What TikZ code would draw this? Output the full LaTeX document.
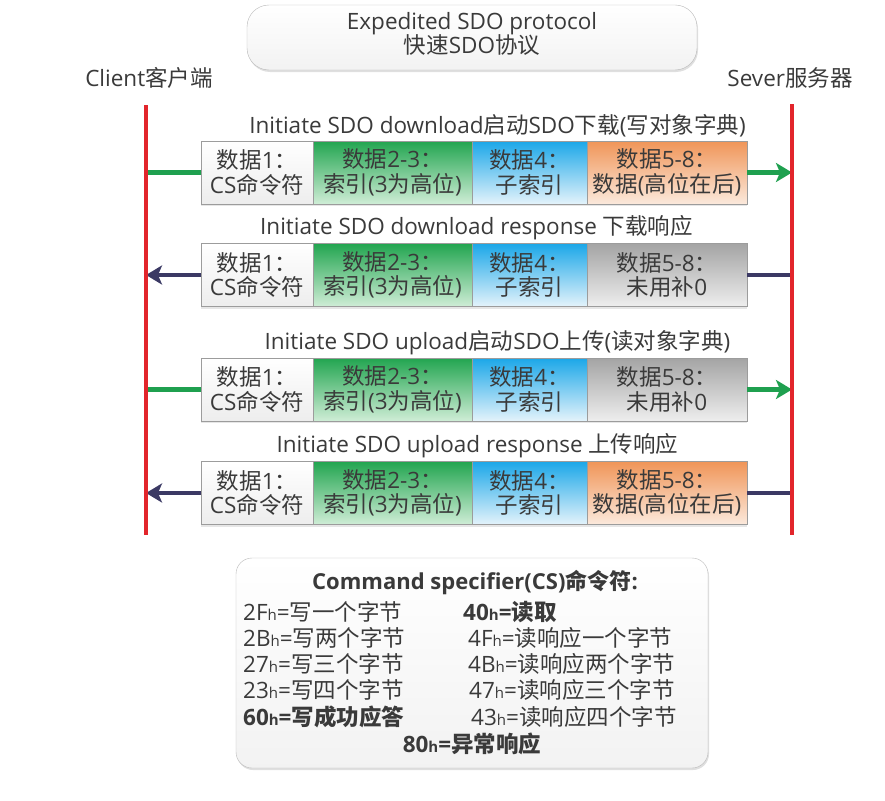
\documentclass[tikz,border=0pt]{standalone}
\usepackage{fontspec}
\setmainfont{Open Sans}
\newfontfamily\cjkfont{Noto Sans CJK SC}
% Chinese characters take the CJK family, everything else stays in Open Sans
\XeTeXinterchartokenstate=1
\newXeTeXintercharclass\cjkclass
\newcount\cjkcode
\def\setcjkrange#1#2{\cjkcode=#1 \loop\XeTeXcharclass\cjkcode=\cjkclass
  \ifnum\cjkcode<#2 \advance\cjkcode by 1 \repeat}
\setcjkrange{"4E00}{"9FFF}
\setcjkrange{"3000}{"303F}
\setcjkrange{"FF00}{"FFEF}
\XeTeXinterchartoks 0 \cjkclass = {\begingroup\cjkfont}
\XeTeXinterchartoks 4095 \cjkclass = {\begingroup\cjkfont}
\XeTeXinterchartoks \cjkclass 0 = {\endgroup}
\XeTeXinterchartoks \cjkclass 4095 = {\endgroup}
\usetikzlibrary{arrows.meta, positioning, shadows}
\definecolor{linered}{HTML}{E2252B}
\definecolor{sendgreen}{HTML}{1FA04F}
\definecolor{replynavy}{HTML}{3B3964}
\definecolor{cellline}{HTML}{9C9C9C}
\definecolor{txt}{HTML}{3A3A3A}
\definecolor{gtop}{HTML}{22A550}
\definecolor{gbot}{HTML}{CFEDD6}
\definecolor{btop}{HTML}{1BA7E8}
\definecolor{bbot}{HTML}{E4F3FB}
\definecolor{otop}{HTML}{F09558}
\definecolor{obot}{HTML}{FBE9DC}
\definecolor{ktop}{HTML}{A4A4A4}
\definecolor{kbot}{HTML}{EEEEEE}
\newcommand{\hx}{{\fontsize{15}{15}\selectfont h}}

\begin{document}
\begin{tikzpicture}[
  x=1pt, y=-1pt,
  txtfont/.style={font=\fontsize{22.5}{24.5}\selectfont, text=txt},
  cell/.style={rectangle, draw=cellline, minimum height=63pt, inner sep=0pt,
               outer sep=0pt, align=center, txtfont,
               drop shadow={shadow xshift=0pt, shadow yshift=-2pt, opacity=.2}},
  cellw/.style={cell, top color=white, bottom color=gray!14},
  cellg/.style={cell, top color=gtop, bottom color=gbot},
  cellb/.style={cell, top color=btop, bottom color=bbot},
  cello/.style={cell, top color=otop, bottom color=obot},
  cellk/.style={cell, top color=ktop, bottom color=kbot},
  rowlabel/.style={txtfont, inner sep=0pt},
  panel/.style={rectangle, draw=gray!55, top color=white, bottom color=gray!10,
                drop shadow={shadow xshift=1pt, shadow yshift=-2pt, opacity=.25}},
  redline/.style={line width=4.5pt, color=linered},
  sendline/.style={line width=4.5pt, color=sendgreen},
  sendarrow/.style={sendline, -{Stealth[length=16pt, width=19pt, inset=4pt]}},
  replyline/.style={line width=4.5pt, color=replynavy},
  replyarrow/.style={replyline, -{Stealth[length=16pt, width=19pt, inset=4pt]}},
  cstext/.style={font=\fontsize{22.5}{24}\selectfont, text=txt, inner sep=0pt, anchor=west}
]
  \useasboundingbox (0,0) rectangle (885,800);

  % title and the two ends
  \node[panel, rounded corners=22pt, minimum width=450pt, minimum height=65pt] (title) at (472,37.5) {};
  \node[txtfont, align=center] (titletext) at (472,34) {Expedited SDO protocol\\快速SDO协议};
  \node[txtfont] (client) at (149,78) {Client客户端};
  \node[txtfont] (server) at (790,78) {Sever服务器};

  \coordinate (clitop) at (146,105);
  \coordinate (clibot) at (146,535);
  \coordinate (srvtop) at (792,104);
  \coordinate (srvbot) at (792,535);

  % frames
  \foreach \r/\y/\lx/\lab/\lastc/\lastt/\lsty/\rsty in {
    1/172.5/497.5/{Initiate SDO download启动SDO下载(写对象字典)}/cello/{数据5-8：\\数据(高位在后)}/sendline/sendarrow,
    2/275/476.5/{Initiate SDO download response 下载响应}/cellk/{数据5-8：\\未用补0}/replyarrow/replyline,
    3/389.5/497.5/{Initiate SDO upload启动SDO上传(读对象字典)}/cellk/{数据5-8：\\未用补0}/sendline/sendarrow,
    4/493/477.5/{Initiate SDO upload response 上传响应}/cello/{数据5-8：\\数据(高位在后)}/replyarrow/replyline}
  {
    \node[cellw, minimum width=112pt, anchor=west] (d1\r) at (201,\y) {数据1：\\CS命令符};
    \node[cellg, minimum width=159pt, right=0pt of d1\r] (d2\r) {数据2-3：\\索引(3为高位)};
    \node[cellb, minimum width=115pt, right=0pt of d2\r] (d3\r) {数据4：\\子索引};
    \node[\lastc, minimum width=160pt, right=0pt of d3\r] (d4\r) {\lastt};
    \node[rowlabel] (lab\r) at (\lx,\y-47) {\lab};
    \draw[\lsty] (d1\r.west) -- (d1\r.west -| clitop);
    \draw[\rsty] (d4\r.east) -- (d4\r.east -| srvtop);
  }

  \draw[redline] (clitop) -- (clibot);
  \draw[redline] (srvtop) -- (srvbot);

  % command specifier list
  \node[panel, rounded corners=16pt, minimum width=472pt, minimum height=210pt] (csbox) at (472,663) {};
  \node[cstext, anchor=center, font=\fontsize{22}{24}\selectfont\bfseries] (cshead) at (475,583)
       {Command specifier(CS)命令符:};
  \node[cstext] (w1) at (243,612) {2F\hx=写一个字节};
  \node[cstext] (w2) at (243,638) {2B\hx=写两个字节};
  \node[cstext] (w3) at (243,664) {27\hx=写三个字节};
  \node[cstext] (w4) at (243,690) {23\hx=写四个字节};
  \node[cstext, font=\fontsize{22.5}{24}\selectfont\bfseries] (w5) at (243,717) {60\hx=写成功应答};
  \node[cstext, font=\fontsize{22.5}{24}\selectfont\bfseries] (r1) at (463,612) {40\hx=读取};
  \node[cstext] (r2) at (468,638) {4F\hx=读响应一个字节};
  \node[cstext] (r3) at (468,664) {4B\hx=读响应两个字节};
  \node[cstext] (r4) at (469,690) {47\hx=读响应三个字节};
  \node[cstext] (r5) at (471,717) {43\hx=读响应四个字节};
  \node[cstext, anchor=center, font=\fontsize{22.5}{24}\selectfont\bfseries] (ex) at (472,744) {80\hx=异常响应};
\end{tikzpicture}
\end{document}
